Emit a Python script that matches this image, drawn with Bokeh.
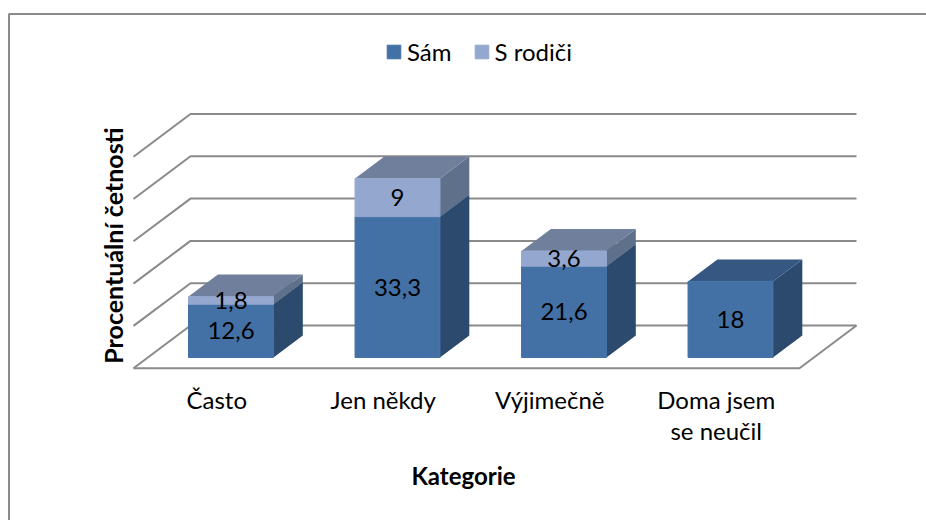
from bokeh.plotting import figure
from bokeh.models import ColumnDataSource, LinearAxis, FixedTicker, Legend, LegendItem
from bokeh.core.properties import value
from bokeh.embed import file_html
from bokeh.resources import INLINE

# --- data -------------------------------------------------------------
categories = ["Často", "Jen někdy", "Výjimečně", "Doma jsem\nse neučil"]
sam = [12.6, 33.3, 21.6, 18]
s_rodici = [1.8, 9, 3.6, 0]
value_ticks = [0, 10, 20, 30, 40, 50]
series_names = ["Sám", "S rodiči"]

# --- layout / style ---------------------------------------------------
W, H = 926, 520
FLOOR_LEFT, FLOOR_FRONT = 133.0, 367.7
PX_PER_CAT, PX_PER_VAL = 166.5, 4.23
DEPTH_DX = 57 / PX_PER_CAT     # category units per full floor depth
DEPTH_DY = 42.7 / PX_PER_VAL   # value units per full floor depth
BAR_D0, BAR_D1 = 0.25, 0.765
BAR_U0, BAR_U1 = 0.245, 0.755
GRID = "#8a8a8a"
FONT = "Lato"
FS = "24px"
C_DARK = dict(front="#4471A5", side="#2C4A6E", top="#355781")
C_LIGHT = dict(front="#94A8CF", side="#5F708B", top="#707F9B")

def sx(px):
    return (px - FLOOR_LEFT) / PX_PER_CAT

def sy(px):
    return (FLOOR_FRONT - px) / PX_PER_VAL

def proj(u, v, d):
    return u + DEPTH_DX * d, v + DEPTH_DY * d

p = figure(width=W, height=H, output_backend="svg", toolbar_location=None,
           x_range=(sx(0), sx(W)), y_range=(sy(H), sy(0)),
           min_border=0, x_axis_type=None, y_axis_type=None,
           outline_line_color=None)
p.grid.visible = False

# chart border
p.line([sx(8.5), sx(8.5), sx(W)], [sy(H), sy(13.5), sy(13.5)],
       line_color=GRID, line_width=2)

# walls and floor
n = len(categories)
xs, ys = [], []
for t in value_ticks:
    a, b = proj(0, t, 0), proj(0, t, 1)
    c = proj(n, t, 1)
    xs.append([a[0], b[0], c[0]])
    ys.append([a[1], b[1], c[1]])
front = proj(n, 0, 0)
xs.append([0, front[0], proj(n, 0, 1)[0]])
ys.append([0, front[1], proj(n, 0, 1)[1]])
p.multi_line(xs, ys, line_color=GRID, line_width=2)

# bars
def add_faces(series, base, colors):
    front_d = dict(xs=[], ys=[])
    side_d = dict(xs=[], ys=[])
    top_d = dict(xs=[], ys=[])
    for i, (val, b) in enumerate(zip(series, base)):
        if val <= 0:
            continue
        u0, u1, v0, v1 = i + BAR_U0, i + BAR_U1, b, b + val
        pts = [(u0, v0, BAR_D0), (u1, v0, BAR_D0), (u1, v1, BAR_D0), (u0, v1, BAR_D0)]
        f = [proj(*q) for q in pts]
        front_d["xs"].append([q[0] for q in f]); front_d["ys"].append([q[1] for q in f])
        pts = [(u1, v0, BAR_D0), (u1, v0, BAR_D1), (u1, v1, BAR_D1), (u1, v1, BAR_D0)]
        f = [proj(*q) for q in pts]
        side_d["xs"].append([q[0] for q in f]); side_d["ys"].append([q[1] for q in f])
        pts = [(u0, v1, BAR_D0), (u1, v1, BAR_D0), (u1, v1, BAR_D1), (u0, v1, BAR_D1)]
        f = [proj(*q) for q in pts]
        top_d["xs"].append([q[0] for q in f]); top_d["ys"].append([q[1] for q in f])
    p.patches("xs", "ys", source=ColumnDataSource(side_d), fill_color=colors["side"], line_color=None)
    p.patches("xs", "ys", source=ColumnDataSource(top_d), fill_color=colors["top"], line_color=None)
    return p.patches("xs", "ys", source=ColumnDataSource(front_d), fill_color=colors["front"],
                     line_color=colors["front"], line_width=1)

r_dark = add_faces(sam, [0] * n, C_DARK)
r_light = add_faces(s_rodici, sam, C_LIGHT)

# data labels
def fmt(v):
    return f"{v:g}".replace(".", ",")

lx, ly, lt = [], [], []
for i in range(n):
    for val, b in ((sam[i], 0), (s_rodici[i], sam[i])):
        if val > 0:
            x, y = proj(i + 0.5, b + val / 2, BAR_D0)
            lx.append(x); ly.append(y); lt.append(fmt(val))
p.text(lx, ly, text=lt, text_align="center", text_baseline="middle",
       text_font=value(FONT), text_font_size=FS, text_color="#000000")

# axes placed inside the canvas
xa = LinearAxis(fixed_location=sy(378), ticker=FixedTicker(ticks=[i + 0.5 for i in range(n)]),
                major_label_overrides={i + 0.5: c for i, c in enumerate(categories)},
                axis_label="Kategorie", axis_label_standoff=13,
                axis_line_color=None, major_tick_line_color=None, minor_tick_line_color=None,
                major_label_standoff=0)
xa.major_label_text_font = FONT
xa.major_label_text_font_size = FS
xa.major_label_text_color = "#000000"
xa.major_label_text_line_height = 1.07
xa.axis_label_text_font = FONT
xa.axis_label_text_font_style = "bold"
xa.axis_label_text_font_size = FS
xa.axis_label_text_color = "#000000"
p.add_layout(xa, "below")

ya = LinearAxis(fixed_location=sx(127), ticker=FixedTicker(ticks=[]),
                bounds=(sy(364), sy(126)),
                axis_label="Procentuální četnosti", axis_label_standoff=0,
                axis_line_color=None, major_tick_line_color=None, minor_tick_line_color=None)
ya.axis_label_text_font = FONT
ya.axis_label_text_font_style = "bold"
ya.axis_label_text_font_size = "25px"
ya.axis_label_text_color = "#000000"
p.add_layout(ya, "left")

legend = Legend(items=[LegendItem(label=series_names[0], renderers=[r_dark]),
                       LegendItem(label=series_names[1], renderers=[r_light])],
                orientation="horizontal", location=(385, H - 66),
                border_line_color=None, background_fill_alpha=0,
                glyph_width=17, glyph_height=17, label_standoff=5, spacing=21,
                padding=0, margin=0,
                label_text_font=FONT, label_text_font_size=FS, label_text_color="#000000")
p.add_layout(legend, "center")

open("out.html", "w").write(file_html(p, INLINE))
